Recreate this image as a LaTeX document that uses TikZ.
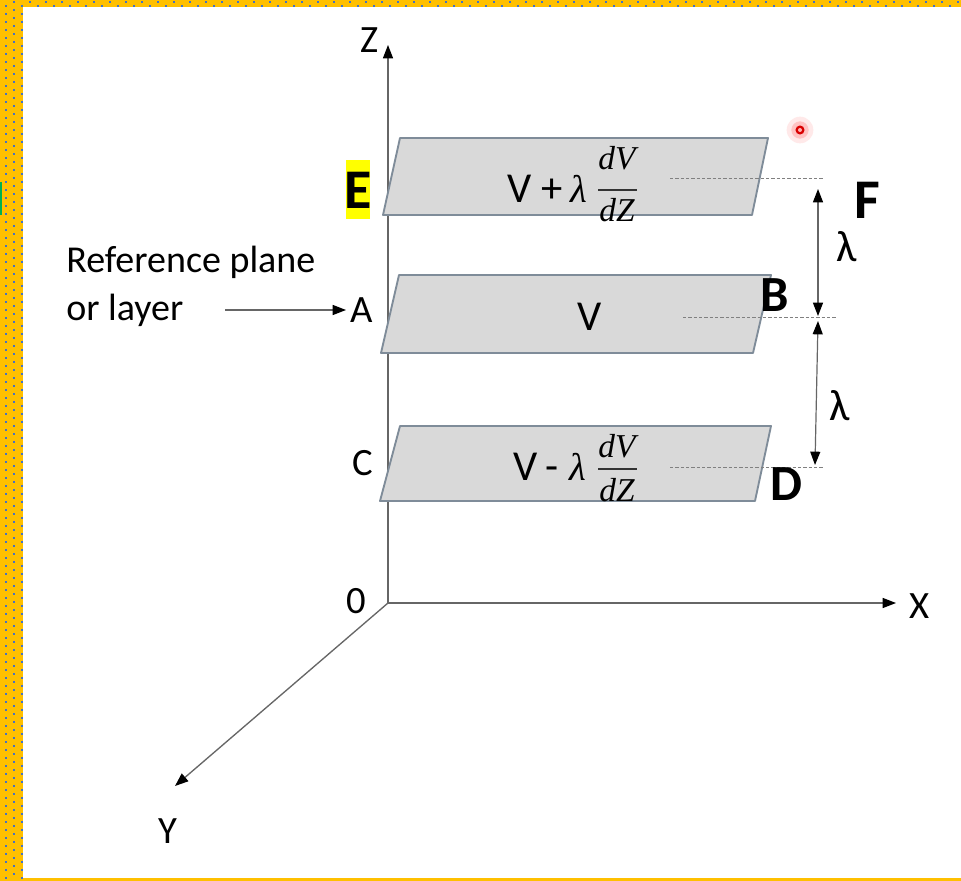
\documentclass[tikz,border=0pt]{standalone}
\usepackage{fontspec}
\setmainfont{Carlito}
\newfontfamily\seriff{Liberation Serif}
\usetikzlibrary{arrows.meta}
\definecolor{bandyellow}{HTML}{FFC000}
\definecolor{dotblue}{HTML}{4472C4}
\definecolor{planefill}{HTML}{D9D9D9}
\definecolor{planeedge}{HTML}{7F8C99}
\definecolor{axisgray}{HTML}{666666}
\definecolor{hiyellow}{HTML}{FFFF00}
\definecolor{markgreen}{HTML}{00B050}
\tikzset{
  tipb/.tip={Triangle[length=10pt,width=7.5pt,fill=black,color=black]},
  plane/.style={fill=planefill, draw=planeedge, line width=1.4pt, line join=round},
  axisline/.style={draw=axisgray, line width=1pt, -tipb},
  dimline/.style={draw=axisgray, line width=0.9pt, tipb-tipb},
  dashline/.style={draw=gray, line width=0.7pt, dash pattern=on 2.5pt off 1.5pt},
  lbl/.style={font=\fontsize{29}{32}\selectfont, inner sep=0pt},
  reftxt/.style={font=\fontsize{28.5}{32}\selectfont, inner sep=0pt, anchor=base west},
  ptxt/.style={font=\fontsize{32}{36}\selectfont, inner sep=0pt},
  lamit/.style={font=\fontsize{29}{32}\selectfont\seriff\itshape, inner sep=0pt},
  fracit/.style={font=\fontsize{25}{28}\selectfont\seriff\itshape, inner sep=0pt},
  fracbar/.style={draw=black!80, line width=1.2pt},
  boldlbl/.style={font=\fontsize{42}{46}\selectfont\bfseries, inner sep=0pt},
  boldlbls/.style={font=\fontsize{38}{42}\selectfont\bfseries, inner sep=0pt},
  lamlbl/.style={font=\fontsize{33}{36}\selectfont, inner sep=0pt},
}
\begin{document}
\begin{tikzpicture}[x=0.75pt,y=-0.75pt]
\useasboundingbox (0,0) rectangle (961,881);
\fill[white] (0,0) rectangle (961,881);
% border bands
\fill[bandyellow] (0,0) rectangle (961,7.5);
\fill[bandyellow] (0,0) rectangle (23,881);
\fill[bandyellow] (0,878) rectangle (961,881);
\foreach \i in {0,...,60} {
  \fill[dotblue] ({13+16*\i},1) rectangle ++(2,2);
  \fill[dotblue] ({5+16*\i},5) rectangle ++(2,2);
}
\foreach \j in {0,...,109} {
  \fill[dotblue] (5,{5+8*\j}) rectangle ++(2,2);
  \fill[dotblue] (13,{9+8*\j}) rectangle ++(2,2);
  \fill[dotblue] (21,{5+8*\j}) rectangle ++(2,2);
}
\draw[markgreen, line width=1.2pt] (0.8,182) -- (0.8,215);

% axes
\coordinate (O) at (388,603);
\coordinate (Ztip) at (388,45);
\coordinate (Xtip) at (896,603);
\coordinate (Ytip) at (175,786);
\draw[axisline] (O) -- (Ztip);
\draw[axisline] (O) -- (Xtip);
\draw[axisline] (O) -- (Ytip);
\node[lbl] (zl) at (370,40) {Z};
\node[lbl] (ol) at (356,601) {0};
\node[lbl] (xl) at (920,606) {X};
\node[lbl] (yl) at (168,831) {Y};

% planes
\path[plane] (400,138) -- (768,138) -- (752,215) -- (383,215) -- cycle;
\path[plane] (399,275) -- (771,275) -- (753,353) -- (381,353) -- cycle;
\path[plane] (400,426) -- (771,426) -- (755,501) -- (380,501) -- cycle;

% top plane text
\node[ptxt, anchor=base] (tV) at (520,202) {V};
\node[ptxt, anchor=base] (tP) at (552,202) {+};
\node[lamit, anchor=base west] (tL) at (570,202) {λ};
\node[fracit, anchor=base] (tN) at (617,170) {dV};
\draw[fracbar] (598,190) -- (637,190);
\node[fracit, anchor=base] (tD) at (617,221) {dZ};
% middle plane text
\node[ptxt, anchor=base] (mV) at (590,330) {V};
% bottom plane text
\node[ptxt, anchor=base] (bV) at (526,480) {V};
\node[ptxt, anchor=base] (bM) at (552,480) {-};
\node[lamit, anchor=base west] (bL) at (569,480) {λ};
\node[fracit, anchor=base] (bN) at (617,457) {dV};
\draw[fracbar] (598,469) -- (637,469);
\node[fracit, anchor=base] (bD) at (617,501) {dZ};

% dashed level lines
\coordinate (d1a) at (670,178); \coordinate (d1b) at (823,178);
\coordinate (d2a) at (683,317); \coordinate (d2b) at (837,317);
\coordinate (d3a) at (670,467); \coordinate (d3b) at (823,467);
\draw[dashline] (d1a) -- (d1b);
\draw[dashline] (d2a) -- (d2b);
\draw[dashline] (d3a) -- (d3b);

% dimension arrows
\coordinate (u1) at (818,189); \coordinate (u2) at (818,316);
\coordinate (l1) at (818,321); \coordinate (l2) at (815,465);
\draw[dimline] (u1) -- (u2);
\draw[dimline] (l1) -- (l2);
\node[lamlbl] (lam1) at (847,247) {λ};
\node[lamlbl] (lam2) at (840,406) {λ};

% side labels
\node[lbl, anchor=base] (A) at (362,322) {A};
\node[lbl, anchor=base] (C) at (363,475) {C};
\fill[hiyellow] (346,160) rectangle (370,219);
\node[boldlbl] (E) at (358,190) {E};
\node[boldlbl] (F) at (867,200) {F};
\node[boldlbls] (B) at (775,295) {B};
\node[boldlbls] (D) at (786,484) {D};

% reference label
\node[reftxt] (ref1) at (66,272) {Reference plane};
\node[reftxt] (ref2) at (66,320) {or layer};
\coordinate (rs) at (225,310);
\coordinate (re) at (346,310);
\draw[axisline] (rs) -- (re);
% laser dot
\fill[red!12, opacity=0.7] (800,130) circle[radius=10pt];
\fill[red!30, opacity=0.7] (800,130) circle[radius=6.5pt];
\fill[red!85!black] (800,130) circle[radius=3.4pt];
\fill[red!30] (800,130) circle[radius=1.5pt];
\end{tikzpicture}
\end{document}
